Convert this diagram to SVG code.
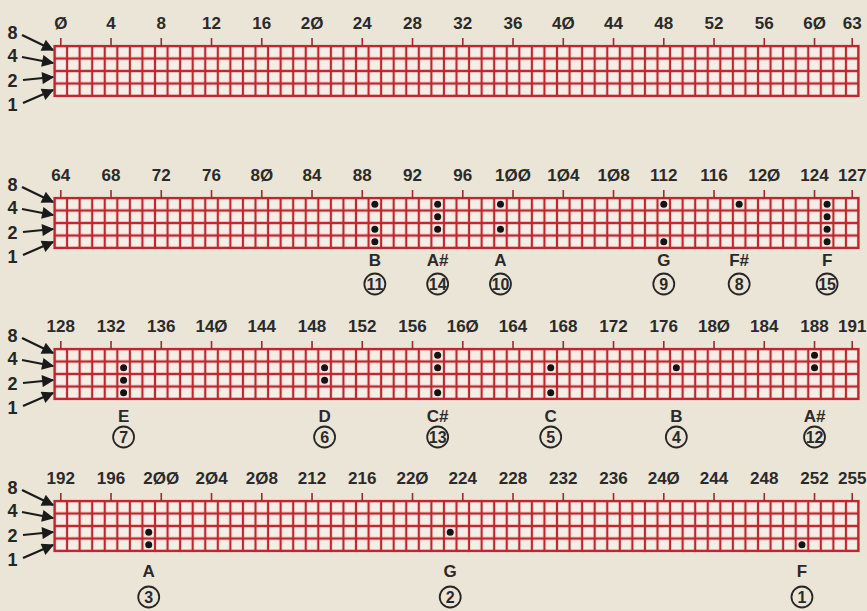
<svg xmlns="http://www.w3.org/2000/svg" xmlns:xlink="http://www.w3.org/1999/xlink" width="867" height="611" viewBox="0 0 867 611">
<defs>
<style>
.num{font-family:"Liberation Sans Narrow","Liberation Sans",Arial,sans-serif;font-size:17px;font-weight:bold;fill:#2a2a2a;text-anchor:middle}
.rl{font-family:"Liberation Sans Narrow","Liberation Sans",Arial,sans-serif;font-size:18px;font-weight:bold;fill:#262626;text-anchor:middle}
.note{font-family:"Liberation Sans Narrow","Liberation Sans",Arial,sans-serif;font-size:17px;font-weight:bold;fill:#2a2a2a;text-anchor:middle}
.cn{font-family:"Liberation Sans Narrow","Liberation Sans",Arial,sans-serif;font-size:16px;font-weight:bold;fill:#2a2a2a;text-anchor:middle}
.ring{fill:none;stroke:#262626;stroke-width:1.8}
.dot{fill:#141414}
.tick{stroke:#9c2a2e;stroke-width:1.6;fill:none}
.arr{stroke:#1a1a1a;stroke-width:2.2;fill:none;marker-end:url(#ah)}
.board{fill:url(#cells);stroke:#bf262e;stroke-width:2.2}
</style>
<pattern id="cells" width="12.5625" height="12.5" patternUnits="userSpaceOnUse">
<rect width="12.5625" height="12.5" fill="#f4eee6"/>
<path d="M0 0V12.5M12.5625 0V12.5M0 0H12.5625M0 12.5H12.5625" stroke="#bf262e" stroke-width="2.2" fill="none"/>
</pattern>
<marker id="ah" viewBox="0 0 10 10" refX="9" refY="5" markerWidth="6" markerHeight="5.5" orient="auto" markerUnits="strokeWidth">
<path d="M0 0L10 5L0 10z" fill="#1a1a1a"/>
</marker>
<g id="board">
<rect class="board" x="0" y="0" width="804" height="50"/>
<path class="tick" d="M6.28 -8V0M56.53 -8V0M106.78 -8V0M157.03 -8V0M207.28 -8V0M257.53 -8V0M307.78 -8V0M358.03 -8V0M408.28 -8V0M458.53 -8V0M508.78 -8V0M559.03 -8V0M609.28 -8V0M659.53 -8V0M709.78 -8V0M760.03 -8V0M797.72 -8V0"/>
</g>
<g id="rowlabels">
<text class="rl" x="12.5" y="-7">8</text>
<text class="rl" x="12.5" y="16">4</text>
<text class="rl" x="12.5" y="41">2</text>
<text class="rl" x="12.5" y="65">1</text>
</g>
</defs>
<rect width="867" height="611" fill="#ebe5d7"/>

<g id="grid-1" transform="translate(54.5,46)">
<use xlink:href="#board"/>
<g class="labels">
<text class="num" x="6.28" y="-17">Ø</text><text class="num" x="56.53" y="-17">4</text><text class="num" x="106.78" y="-17">8</text><text class="num" x="157.03" y="-17">12</text><text class="num" x="207.28" y="-17">16</text><text class="num" x="257.53" y="-17">2Ø</text><text class="num" x="307.78" y="-17">24</text><text class="num" x="358.03" y="-17">28</text><text class="num" x="408.28" y="-17">32</text><text class="num" x="458.53" y="-17">36</text><text class="num" x="508.78" y="-17">4Ø</text><text class="num" x="559.03" y="-17">44</text><text class="num" x="609.28" y="-17">48</text><text class="num" x="659.53" y="-17">52</text><text class="num" x="709.78" y="-17">56</text><text class="num" x="760.03" y="-17">6Ø</text><text class="num" x="797.72" y="-17">63</text>
</g>
</g>
<g id="grid-2" transform="translate(54.5,198)">
<use xlink:href="#board"/>
<g class="labels">
<text class="num" x="6.28" y="-17">64</text><text class="num" x="56.53" y="-17">68</text><text class="num" x="106.78" y="-17">72</text><text class="num" x="157.03" y="-17">76</text><text class="num" x="207.28" y="-17">8Ø</text><text class="num" x="257.53" y="-17">84</text><text class="num" x="307.78" y="-17">88</text><text class="num" x="358.03" y="-17">92</text><text class="num" x="408.28" y="-17">96</text><text class="num" x="458.53" y="-17">1ØØ</text><text class="num" x="508.78" y="-17">1Ø4</text><text class="num" x="559.03" y="-17">1Ø8</text><text class="num" x="609.28" y="-17">112</text><text class="num" x="659.53" y="-17">116</text><text class="num" x="709.78" y="-17">12Ø</text><text class="num" x="760.03" y="-17">124</text><text class="num" x="797.72" y="-17">127</text>
</g>
</g>
<g id="grid-3" transform="translate(54.5,349)">
<use xlink:href="#board"/>
<g class="labels">
<text class="num" x="6.28" y="-17">128</text><text class="num" x="56.53" y="-17">132</text><text class="num" x="106.78" y="-17">136</text><text class="num" x="157.03" y="-17">14Ø</text><text class="num" x="207.28" y="-17">144</text><text class="num" x="257.53" y="-17">148</text><text class="num" x="307.78" y="-17">152</text><text class="num" x="358.03" y="-17">156</text><text class="num" x="408.28" y="-17">16Ø</text><text class="num" x="458.53" y="-17">164</text><text class="num" x="508.78" y="-17">168</text><text class="num" x="559.03" y="-17">172</text><text class="num" x="609.28" y="-17">176</text><text class="num" x="659.53" y="-17">18Ø</text><text class="num" x="709.78" y="-17">184</text><text class="num" x="760.03" y="-17">188</text><text class="num" x="797.72" y="-17">191</text>
</g>
</g>
<g id="grid-4" transform="translate(54.5,501)">
<use xlink:href="#board"/>
<g class="labels">
<text class="num" x="6.28" y="-17">192</text><text class="num" x="56.53" y="-17">196</text><text class="num" x="106.78" y="-17">2ØØ</text><text class="num" x="157.03" y="-17">2Ø4</text><text class="num" x="207.28" y="-17">2Ø8</text><text class="num" x="257.53" y="-17">212</text><text class="num" x="307.78" y="-17">216</text><text class="num" x="358.03" y="-17">22Ø</text><text class="num" x="408.28" y="-17">224</text><text class="num" x="458.53" y="-17">228</text><text class="num" x="508.78" y="-17">232</text><text class="num" x="559.03" y="-17">236</text><text class="num" x="609.28" y="-17">24Ø</text><text class="num" x="659.53" y="-17">244</text><text class="num" x="709.78" y="-17">248</text><text class="num" x="760.03" y="-17">252</text><text class="num" x="797.72" y="-17">255</text>
</g>
</g>

<g id="rows-1" transform="translate(0,46)"><use xlink:href="#rowlabels"/></g>
<g id="rows-2" transform="translate(0,198)"><use xlink:href="#rowlabels"/></g>
<g id="rows-3" transform="translate(0,349)"><use xlink:href="#rowlabels"/></g>
<g id="rows-4" transform="translate(0,501)"><use xlink:href="#rowlabels"/></g>

<g id="connectors">
<g transform="translate(0,46)"><path class="arr" d="M22 -11L53 4"/><path class="arr" d="M22 11L53 17"/><path class="arr" d="M23 34L53 31"/><path class="arr" d="M23 57L53 44"/></g>
<g transform="translate(0,198)"><path class="arr" d="M22 -11L53 4"/><path class="arr" d="M22 11L53 17"/><path class="arr" d="M23 34L53 31"/><path class="arr" d="M23 57L53 44"/></g>
<g transform="translate(0,349)"><path class="arr" d="M22 -11L53 4"/><path class="arr" d="M22 11L53 17"/><path class="arr" d="M23 34L53 31"/><path class="arr" d="M23 57L53 44"/></g>
<g transform="translate(0,501)"><path class="arr" d="M22 -11L53 4"/><path class="arr" d="M22 11L53 17"/><path class="arr" d="M23 34L53 31"/><path class="arr" d="M23 57L53 44"/></g>
</g>

<!-- grid 2 notes -->
<g id="note-11-B" transform="translate(374.84,198)"><circle class="dot" cx="0" cy="6.25" r="3.5"/><circle class="dot" cx="0" cy="31.25" r="3.5"/><circle class="dot" cx="0" cy="43.75" r="3.5"/><text class="note" x="0" y="68">B</text><circle class="ring" cx="0" cy="86" r="10.5"/><text class="cn" x="0" y="91.5">11</text></g>
<g id="note-14-As" transform="translate(437.66,198)"><circle class="dot" cx="0" cy="6.25" r="3.5"/><circle class="dot" cx="0" cy="18.75" r="3.5"/><circle class="dot" cx="0" cy="31.25" r="3.5"/><text class="note" x="0" y="68">A#</text><circle class="ring" cx="0" cy="86" r="10.5"/><text class="cn" x="0" y="91.5">14</text></g>
<g id="note-10-A" transform="translate(500.47,198)"><circle class="dot" cx="0" cy="6.25" r="3.5"/><circle class="dot" cx="0" cy="31.25" r="3.5"/><text class="note" x="0" y="68">A</text><circle class="ring" cx="0" cy="86" r="10.5"/><text class="cn" x="0" y="91.5">10</text></g>
<g id="note-9-G" transform="translate(663.78,198)"><circle class="dot" cx="0" cy="6.25" r="3.5"/><circle class="dot" cx="0" cy="43.75" r="3.5"/><text class="note" x="0" y="68">G</text><circle class="ring" cx="0" cy="86" r="10.5"/><text class="cn" x="0" y="91.5">9</text></g>
<g id="note-8-Fs" transform="translate(739.16,198)"><circle class="dot" cx="0" cy="6.25" r="3.5"/><text class="note" x="0" y="68">F#</text><circle class="ring" cx="0" cy="86" r="10.5"/><text class="cn" x="0" y="91.5">8</text></g>
<g id="note-15-F" transform="translate(827.09,198)"><circle class="dot" cx="0" cy="6.25" r="3.5"/><circle class="dot" cx="0" cy="18.75" r="3.5"/><circle class="dot" cx="0" cy="31.25" r="3.5"/><circle class="dot" cx="0" cy="43.75" r="3.5"/><text class="note" x="0" y="68">F</text><circle class="ring" cx="0" cy="86" r="10.5"/><text class="cn" x="0" y="91.5">15</text></g>

<!-- grid 3 notes -->
<g id="note-7-E" transform="translate(123.59,349)"><circle class="dot" cx="0" cy="18.75" r="3.5"/><circle class="dot" cx="0" cy="31.25" r="3.5"/><circle class="dot" cx="0" cy="43.75" r="3.5"/><text class="note" x="0" y="73">E</text><circle class="ring" cx="0" cy="88" r="10.5"/><text class="cn" x="0" y="93.5">7</text></g>
<g id="note-6-D" transform="translate(324.59,349)"><circle class="dot" cx="0" cy="18.75" r="3.5"/><circle class="dot" cx="0" cy="31.25" r="3.5"/><text class="note" x="0" y="73">D</text><circle class="ring" cx="0" cy="88" r="10.5"/><text class="cn" x="0" y="93.5">6</text></g>
<g id="note-13-Cs" transform="translate(437.66,349)"><circle class="dot" cx="0" cy="6.25" r="3.5"/><circle class="dot" cx="0" cy="18.75" r="3.5"/><circle class="dot" cx="0" cy="43.75" r="3.5"/><text class="note" x="0" y="73">C#</text><circle class="ring" cx="0" cy="88" r="10.5"/><text class="cn" x="0" y="93.5">13</text></g>
<g id="note-5-C" transform="translate(550.72,349)"><circle class="dot" cx="0" cy="18.75" r="3.5"/><circle class="dot" cx="0" cy="43.75" r="3.5"/><text class="note" x="0" y="73">C</text><circle class="ring" cx="0" cy="88" r="10.5"/><text class="cn" x="0" y="93.5">5</text></g>
<g id="note-4-B" transform="translate(676.34,349)"><circle class="dot" cx="0" cy="18.75" r="3.5"/><text class="note" x="0" y="73">B</text><circle class="ring" cx="0" cy="88" r="10.5"/><text class="cn" x="0" y="93.5">4</text></g>
<g id="note-12-As" transform="translate(814.53,349)"><circle class="dot" cx="0" cy="6.25" r="3.5"/><circle class="dot" cx="0" cy="18.75" r="3.5"/><text class="note" x="0" y="73">A#</text><circle class="ring" cx="0" cy="88" r="10.5"/><text class="cn" x="0" y="93.5">12</text></g>

<!-- grid 4 notes -->
<g id="note-3-A" transform="translate(148.72,501)"><circle class="dot" cx="0" cy="31.25" r="3.5"/><circle class="dot" cx="0" cy="43.75" r="3.5"/><text class="note" x="0" y="76">A</text><circle class="ring" cx="0" cy="96" r="10.5"/><text class="cn" x="0" y="101.5">3</text></g>
<g id="note-2-G" transform="translate(450.22,501)"><circle class="dot" cx="0" cy="31.25" r="3.5"/><text class="note" x="0" y="76">G</text><circle class="ring" cx="0" cy="96" r="10.5"/><text class="cn" x="0" y="101.5">2</text></g>
<g id="note-1-F" transform="translate(801.97,501)"><circle class="dot" cx="0" cy="43.75" r="3.5"/><text class="note" x="0" y="76">F</text><circle class="ring" cx="0" cy="96" r="10.5"/><text class="cn" x="0" y="101.5">1</text></g>
</svg>
